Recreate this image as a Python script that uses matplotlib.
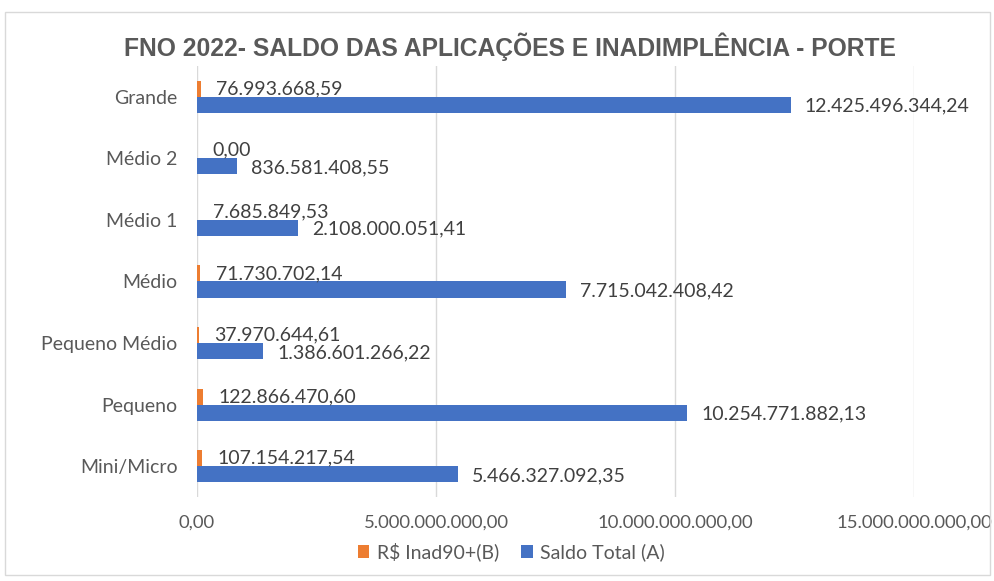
import matplotlib
matplotlib.use("Agg")
import matplotlib.pyplot as plt
from matplotlib.patches import Rectangle

categories = ["Grande", "Médio 2", "Médio 1", "Médio", "Pequeno Médio", "Pequeno", "Mini/Micro"]
inad = [76993668.59, 0.00, 7685849.53, 71730702.14, 37970644.61, 122866470.60, 107154217.54]
saldo = [12425496344.24, 836581408.55, 2108000051.41, 7715042408.42, 1386601266.22, 10254771882.13, 5466327092.35]
xticks = [0, 5e9, 10e9, 15e9]
series_names = ["R$ Inad90+(B)", "Saldo Total (A)"]
title = "FNO 2022- SALDO DAS APLICAÇÕES E INADIMPLÊNCIA - PORTE"

def br(v):
    s = f"{v:,.2f}"
    return s.replace(",", "X").replace(".", ",").replace("X", ".")

TXT = "#595959"
FONT = "Lato"
FS = 14
BLUE = "#4472C4"
ORANGE = "#ED7D31"

fig = plt.figure(figsize=(9.95, 5.81), dpi=100)
fig.patches.append(Rectangle((0.005, 0.01), 0.99, 0.97, transform=fig.transFigure,
                             fill=False, edgecolor="#d9d9d9", linewidth=1))
ax = fig.add_axes([0.198, 0.1446, 0.7206, 0.7418])

ys = list(range(len(categories)))
h = 0.26
ax.barh([y - h / 2 for y in ys], inad, height=h, color=ORANGE, label=series_names[0], zorder=3)
ax.barh([y + h / 2 for y in ys], saldo, height=h, color=BLUE, label=series_names[1], zorder=3)

for y, v in zip(ys, inad):
    ax.annotate(br(v), (v, y - h / 2), xytext=(11, 0), textcoords="offset points",
                va="center", ha="left", fontsize=FS, color="#404040", family=FONT)
for y, v in zip(ys, saldo):
    ax.annotate(br(v), (v, y + h / 2), xytext=(10, -1), textcoords="offset points",
                va="center", ha="left", fontsize=FS, color="#404040", family=FONT)

ax.set_xlim(0, 15e9)
ax.set_ylim(len(categories) - 0.5, -0.5)
ax.set_xticks(xticks)
ax.set_xticklabels([br(v) for v in xticks], fontsize=13.3, color=TXT, family=FONT)
ax.set_yticks(ys)
ax.set_yticklabels(categories, fontsize=FS, color=TXT, family=FONT)
ax.tick_params(length=0, pad=14, axis="y")
ax.tick_params(length=0, pad=13, axis="x")
ax.xaxis.grid(True, color="#d9d9d9", linewidth=1, zorder=0)
for s in ax.spines.values():
    s.set_visible(False)

fig.text(0.513, 0.92, title, ha="center", va="center", fontsize=17.7, fontweight="bold",
         color=TXT, family="Liberation Sans")

leg = fig.legend(loc="center", bbox_to_anchor=(0.514, 0.05), ncol=2, frameon=False,
                 prop={"family": FONT, "size": FS}, handlelength=0.6, handleheight=0.6,
                 handletextpad=0.4, columnspacing=1.1)
for t in leg.get_texts():
    t.set_color(TXT)

fig.savefig("out.png", dpi=100)
